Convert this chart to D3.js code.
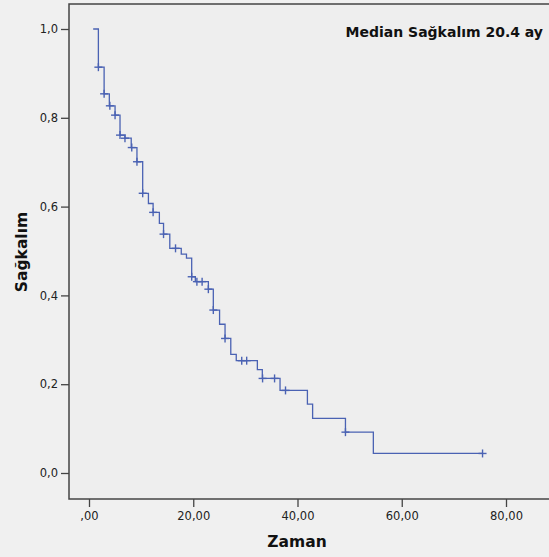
<!DOCTYPE html>
<html>
<head>
<meta charset="utf-8">
<script src="https://d3js.org/d3.v7.min.js"></script>
<style type="text/css">
	body { margin: 0; background: #f0f0f0; }
	.axis text {
		font-family: "DejaVu Sans", sans-serif;
		font-size: 11.5px;
		fill: #222;
	}
	.axis line { stroke: #444; stroke-width: 1.3; }
</style>
</head>
<body>
<script type="text/javascript">

// Kaplan-Meier steps (time in months, survival)
var stepTimes = [0.8, 1.8, 2.9, 3.9, 5.0, 5.95, 6.9, 8.1, 9.2, 10.3, 11.4, 12.3, 13.5, 14.3, 15.5,
                 17.7, 18.7, 19.7, 20.4, 22.9, 23.85, 25.05, 26.1, 27.2, 28.25, 32.3, 33.25, 36.65,
                 41.9, 42.9, 49.2, 54.55];
var survival = [1.0, 0.914, 0.854, 0.827, 0.806, 0.761, 0.754, 0.733, 0.701, 0.630, 0.607, 0.587, 0.562, 0.538, 0.506,
                0.493, 0.484, 0.442, 0.431, 0.414, 0.367, 0.335, 0.303, 0.267, 0.253, 0.233, 0.213, 0.186,
                0.155, 0.123, 0.092, 0.044];
var lastTime = 75.5;
// censored observations
var censorTimes = [1.8, 2.9, 4.0, 5.0, 5.95, 6.9, 8.2, 9.2, 10.3, 12.3, 14.3, 16.6, 19.7, 20.7, 21.7,
                   22.9, 23.85, 26.1, 29.3, 30.25, 33.3, 35.6, 37.7, 49.2, 75.5];
var xTicks = [0, 20, 40, 60, 80];
var yTicks = [0, 0.2, 0.4, 0.6, 0.8, 1.0];

var width = 549, height = 557;
var lineColor = "#4a62b3";

var svg = d3.select("body").append("svg")
	.attr("width", width)
	.attr("height", height);

var xScale = d3.scaleLinear().domain([0, 80]).range([89, 506]);
var yScale = d3.scaleLinear().domain([0, 1]).range([473, 29]);

// plot frame
svg.append("rect")
	.attr("x", 69).attr("y", 4)
	.attr("width", 500).attr("height", 495)
	.attr("fill", "#eeeeee")
	.attr("stroke", "#444")
	.attr("stroke-width", 1.5);

var yAxis = d3.axisLeft(yScale)
	.tickValues(yTicks)
	.tickSize(8)
	.tickPadding(3)
	.tickFormat(function(d) { return d3.format(".1f")(d).replace(".", ","); });

var xAxis = d3.axisBottom(xScale)
	.tickValues(xTicks)
	.tickSize(8)
	.tickPadding(5)
	.tickFormat(function(d) {
		var s = d3.format(".2f")(d).replace(".", ",");
		return d == 0 ? s.slice(1) : s;
	});

svg.append("g").attr("class", "axis")
	.attr("transform", "translate(69,0)")
	.call(yAxis)
	.select(".domain").remove();

svg.append("g").attr("class", "axis")
	.attr("transform", "translate(0,499)")
	.call(xAxis)
	.select(".domain").remove();

// survival curve
var pts = stepTimes.map(function(t, i) { return [t, survival[i]]; });
pts.push([lastTime, survival[survival.length - 1]]);

var line = d3.line()
	.x(function(d) { return xScale(d[0]); })
	.y(function(d) { return yScale(d[1]); })
	.curve(d3.curveStepAfter);

svg.append("path")
	.datum(pts)
	.attr("d", line)
	.attr("fill", "none")
	.attr("stroke", lineColor)
	.attr("stroke-width", 1.3);

function survAt(t) {
	var s = survival[0];
	for (var i = 0; i < stepTimes.length; i++) {
		if (stepTimes[i] <= t + 1e-9) s = survival[i];
	}
	return s;
}

var cross = svg.append("g")
	.attr("stroke", lineColor)
	.attr("stroke-width", 1.4);

censorTimes.forEach(function(t) {
	var cx = xScale(t), cy = yScale(survAt(t));
	cross.append("line").attr("x1", cx - 4).attr("x2", cx + 4).attr("y1", cy).attr("y2", cy);
	cross.append("line").attr("x1", cx).attr("x2", cx).attr("y1", cy - 4).attr("y2", cy + 4);
});

// titles
svg.append("text")
	.attr("x", 297).attr("y", 547)
	.attr("text-anchor", "middle")
	.style("font-family", "DejaVu Sans, sans-serif")
	.style("font-weight", "bold")
	.style("font-size", "15.5px")
	.attr("fill", "#111")
	.text("Zaman");

svg.append("text")
	.attr("transform", "translate(27,252) rotate(-90)")
	.attr("text-anchor", "middle")
	.style("font-family", "DejaVu Sans, sans-serif")
	.style("font-weight", "bold")
	.style("font-size", "15.5px")
	.attr("fill", "#111")
	.text("Sağkalım");

svg.append("text")
	.attr("x", 543).attr("y", 37)
	.attr("text-anchor", "end")
	.style("font-family", "DejaVu Sans, sans-serif")
	.style("font-weight", "bold")
	.style("font-size", "14px")
	.attr("fill", "#111")
	.text("Median Sağkalım 20.4 ay");

</script>
</body>
</html>
